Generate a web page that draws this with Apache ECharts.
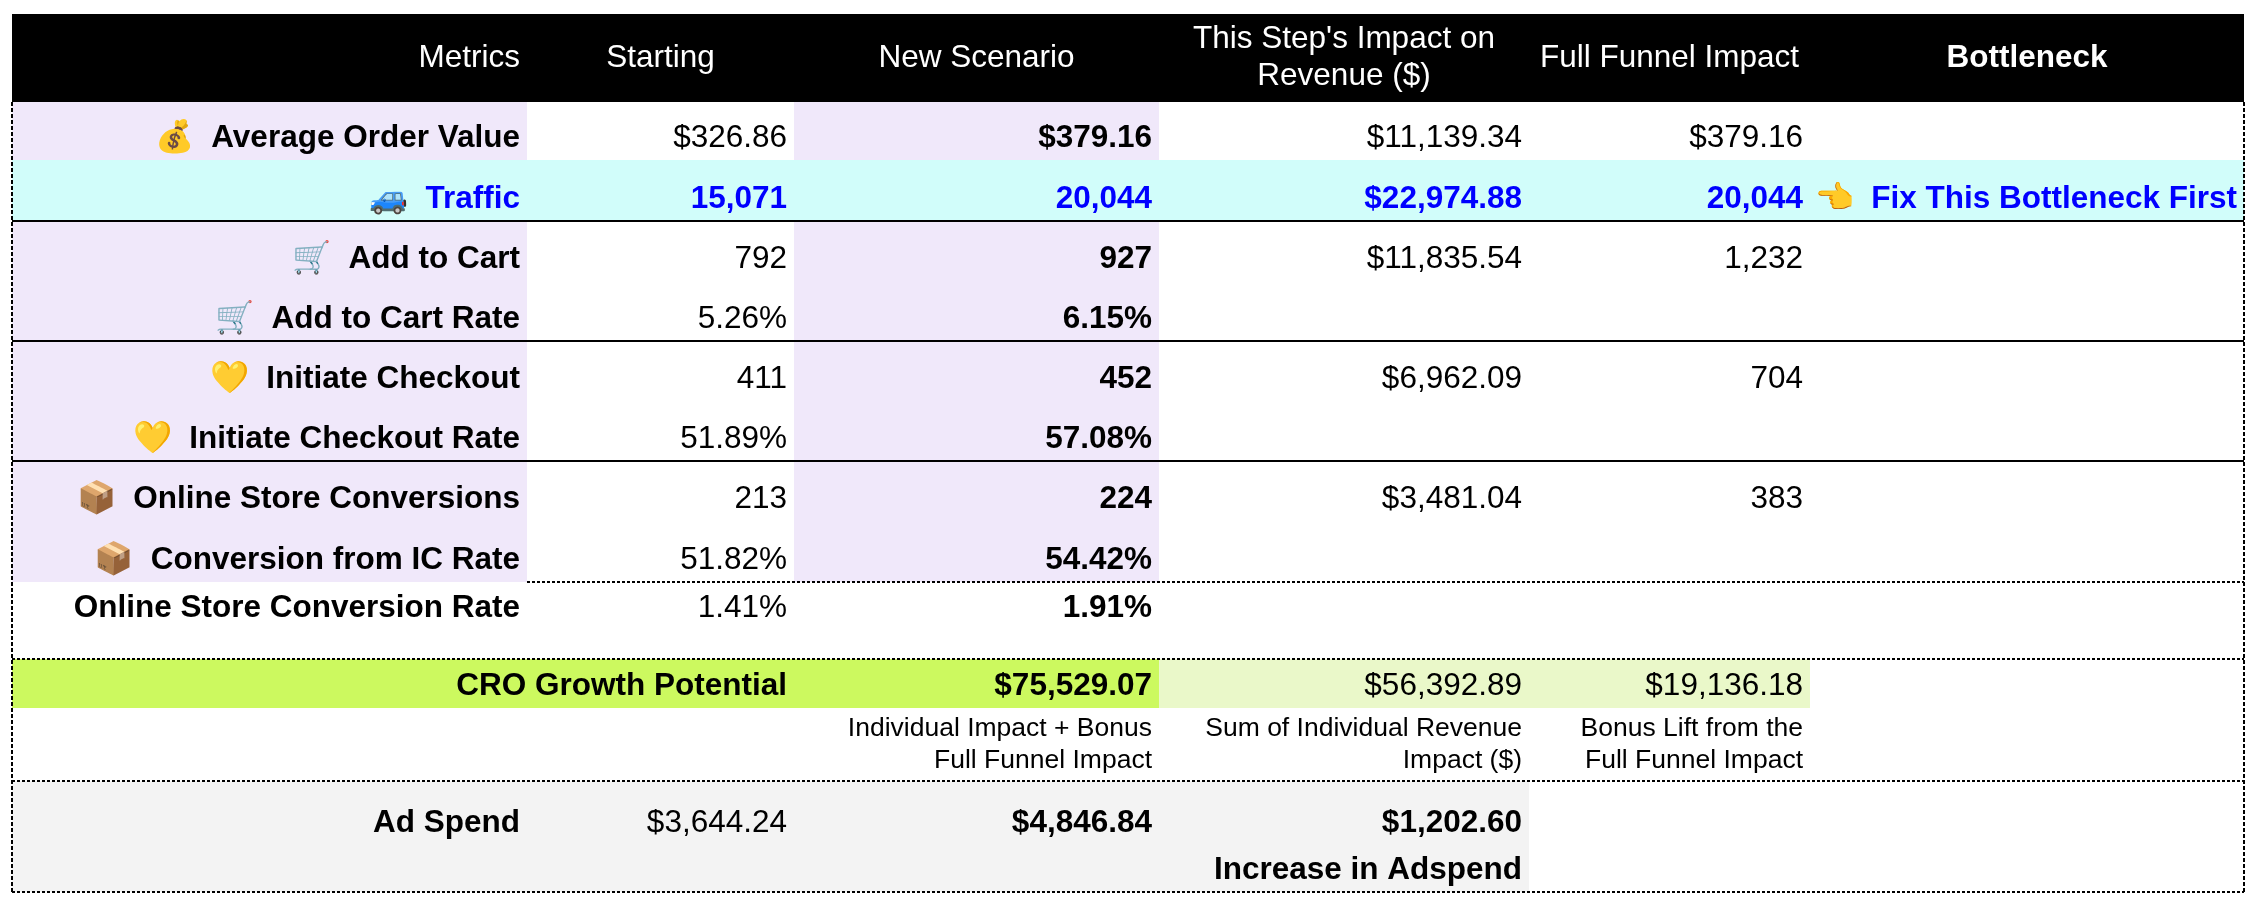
<!DOCTYPE html>
<html>
<head>
<meta charset="utf-8">
<script src="https://cdn.jsdelivr.net/npm/echarts@6/dist/echarts.min.js"></script>
<style>
  html, body { margin: 0; padding: 0; background: #fff; }
  #main { width: 2264px; height: 914px; }
</style>
</head>
<body>
<div id="main"></div>
<script>
// ---- data ----
var headers = ['Metrics', 'Starting', 'New Scenario', "This Step's Impact on\nRevenue ($)", 'Full Funnel Impact', 'Bottleneck'];
var metricNames = [
  '💰  Average Order Value', '🚙  Traffic', '🛒  Add to Cart', '🛒  Add to Cart Rate',
  '💛  Initiate Checkout', '💛  Initiate Checkout Rate', '📦  Online Store Conversions',
  '📦  Conversion from IC Rate', 'Online Store Conversion Rate'
];
var metricFormats = ['usd', 'int', 'int', 'pct', 'int', 'pct', 'int', 'pct', 'pct'];
var startingValues = [326.86, 15071, 792, 5.26, 411, 51.89, 213, 51.82, 1.41];
var newScenarioValues = [379.16, 20044, 927, 6.15, 452, 57.08, 224, 54.42, 1.91];
var stepImpactValues = [11139.34, 22974.88, 11835.54, null, 6962.09, null, 3481.04, null, null];
var fullFunnelValues = [379.16, 20044, 1232, null, 704, null, 383, null, null];
var bottleneckNotes = ['', '👈  Fix This Bottleneck First', '', '', '', '', '', '', ''];
var bottleneckIndex = 1;

var croLabel = 'CRO Growth Potential';
var croValues = [75529.07, 56392.89, 19136.18];
var croNotes = ['Individual Impact + Bonus\nFull Funnel Impact', 'Sum of Individual Revenue\nImpact ($)', 'Bonus Lift from the\nFull Funnel Impact'];
var adSpendLabel = 'Ad Spend';
var adSpendValues = [3644.24, 4846.84, 1202.60];
var adSpendNote = 'Increase in Adspend';

// ---- layout (table grid edges in axis units) ----
var COL_X = [12, 527, 794, 1159, 1529, 1810, 2244];
var ROW_Y = [14, 102, 160, 221, 281, 341, 401, 461, 521, 582, 630, 659, 708, 781, 845, 892];
var FONT = '"Liberation Sans", Arial, Helvetica, sans-serif';
var LAVENDER = '#f0e8fa', CYAN = '#d1fdfa', LIME = '#ccf95f', PALE_LIME = '#eaf8c9', GREY = '#f3f3f3';
var BLUE = '#0000ff';

function fmt(v, kind) {
  if (v === null || v === undefined) return '';
  if (kind === 'usd') return '$' + v.toLocaleString('en-US', { minimumFractionDigits: 2, maximumFractionDigits: 2 });
  if (kind === 'pct') return v.toFixed(2) + '%';
  return v.toLocaleString('en-US');
}

// 背景块
var fills = [];
function fill(c0, c1, r0, r1, color) { fills.push({ c0: c0, c1: c1, r0: r0, r1: r1, color: color }); }
fill(0, 6, 0, 1, '#000');
for (var i = 0; i < metricNames.length - 1; i++) {
  var r = i + 1;
  if (i === bottleneckIndex) { fill(0, 6, r, r + 1, CYAN); continue; }
  fill(0, 1, r, r + 1, LAVENDER);
  fill(2, 3, r, r + 1, LAVENDER);
}
fill(0, 3, 11, 12, LIME);
fill(3, 5, 11, 12, PALE_LIME);
fill(0, 4, 13, 15, GREY);

// 文本单元格
var texts = [];
function cell(c0, c1, r, text, opt) {
  opt = opt || {};
  texts.push({ c0: c0, c1: c1, r: r, text: text, bold: !!opt.bold, color: opt.color || '#000',
    size: opt.size || 31.5, align: opt.align || 'right', mode: opt.mode || 'bottom', lh: opt.lh || 37 });
}
for (var h = 0; h < headers.length; h++) {
  cell(h, h + 1, 0, headers[h], { color: '#fff', align: h === 0 ? 'right' : 'center', mode: 'center', bold: h === 5 });
}
for (var m = 0; m < metricNames.length; m++) {
  var row = m + 1;
  var hot = m === bottleneckIndex;
  var col = hot ? BLUE : '#000';
  cell(0, 1, row, metricNames[m], { bold: true, color: col });
  cell(1, 2, row, fmt(startingValues[m], metricFormats[m]), { bold: hot, color: col });
  cell(2, 3, row, fmt(newScenarioValues[m], metricFormats[m]), { bold: true, color: col });
  cell(3, 4, row, fmt(stepImpactValues[m], 'usd'), { bold: hot, color: col });
  cell(4, 5, row, fmt(fullFunnelValues[m], m === 0 ? 'usd' : 'int'), { bold: hot, color: col });
  if (bottleneckNotes[m]) cell(5, 6, row, bottleneckNotes[m], { bold: true, color: col });
}
cell(0, 2, 11, croLabel, { bold: true });
cell(2, 3, 11, fmt(croValues[0], 'usd'), { bold: true });
cell(3, 4, 11, fmt(croValues[1], 'usd'));
cell(4, 5, 11, fmt(croValues[2], 'usd'));
for (var n = 0; n < croNotes.length; n++) {
  cell(n + 2, n + 3, 12, croNotes[n], { size: 26.5, mode: 'center', lh: 32 });
}
cell(0, 1, 13, adSpendLabel, { bold: true });
cell(1, 2, 13, fmt(adSpendValues[0], 'usd'));
cell(2, 3, 13, fmt(adSpendValues[1], 'usd'), { bold: true });
cell(3, 4, 13, fmt(adSpendValues[2], 'usd'), { bold: true });
cell(3, 4, 14, adSpendNote, { bold: true });

// 分隔线
var rules = [];
function rule(x0, x1, y0, y1, dash) { rules.push({ x0: x0, x1: x1, y0: y0, y1: y1, dash: dash }); }
[3, 5, 7].forEach(function (r) { rule(COL_X[0], COL_X[6], ROW_Y[r], ROW_Y[r], null); });
rule(COL_X[1], COL_X[6], ROW_Y[9], ROW_Y[9], [3, 2]);
[11, 13, 15].forEach(function (r) { rule(COL_X[0], COL_X[6], ROW_Y[r], ROW_Y[r], [3, 2]); });
rule(COL_X[0], COL_X[0], ROW_Y[1], ROW_Y[15], [4, 2]);
rule(COL_X[6], COL_X[6], ROW_Y[1], ROW_Y[15], [4, 2]);

var chart = echarts.init(document.getElementById('main'));

function idxData(list) { return list.map(function (_, k) { return [k, 0]; }); }

chart.setOption({
  animation: false,
  grid: { left: COL_X[0], right: 2264 - COL_X[6], top: ROW_Y[0], bottom: 914 - ROW_Y[15], show: false },
  xAxis: { type: 'value', min: COL_X[0], max: COL_X[6], show: false },
  yAxis: { type: 'value', min: ROW_Y[0], max: ROW_Y[15], inverse: true, show: false },
  series: [
    {
      type: 'custom', z: 1, silent: true, clip: false,
      data: idxData(fills),
      renderItem: function (params, api) {
        var f = fills[params.dataIndex];
        var p0 = api.coord([COL_X[f.c0], ROW_Y[f.r0]]);
        var p1 = api.coord([COL_X[f.c1], ROW_Y[f.r1]]);
        return { type: 'rect', shape: { x: p0[0], y: p0[1], width: p1[0] - p0[0], height: p1[1] - p0[1] },
          style: { fill: f.color } };
      }
    },
    {
      type: 'custom', z: 2, silent: true, clip: false,
      data: idxData(rules),
      renderItem: function (params, api) {
        var l = rules[params.dataIndex];
        var p0 = api.coord([l.x0, l.y0]);
        var p1 = api.coord([l.x1, l.y1]);
        return { type: 'line', shape: { x1: p0[0], y1: p0[1], x2: p1[0], y2: p1[1] },
          style: { stroke: '#000', lineWidth: 2, lineDash: l.dash || null } };
      }
    },
    {
      type: 'custom', z: 3, silent: true, clip: false,
      data: idxData(texts),
      renderItem: function (params, api) {
        var t = texts[params.dataIndex];
        var p0 = api.coord([COL_X[t.c0], ROW_Y[t.r]]);
        var p1 = api.coord([COL_X[t.c1], ROW_Y[t.r + 1]]);
        var x = t.align === 'center' ? (p0[0] + p1[0]) / 2 : p1[0] - 7;
        var y;
        if (t.mode === 'center') y = t.r === 0 ? (p0[1] + p1[1]) / 2 : p1[1] - 36;
        else y = p1[1] - 22;
        return { type: 'text', style: {
          text: t.text, x: x, y: y, align: t.align, verticalAlign: 'middle',
          fill: t.color, fontSize: t.size, fontFamily: FONT, fontWeight: t.bold ? 'bold' : 'normal',
          lineHeight: t.lh
        } };
      }
    }
  ]
});
</script>
</body>
</html>
